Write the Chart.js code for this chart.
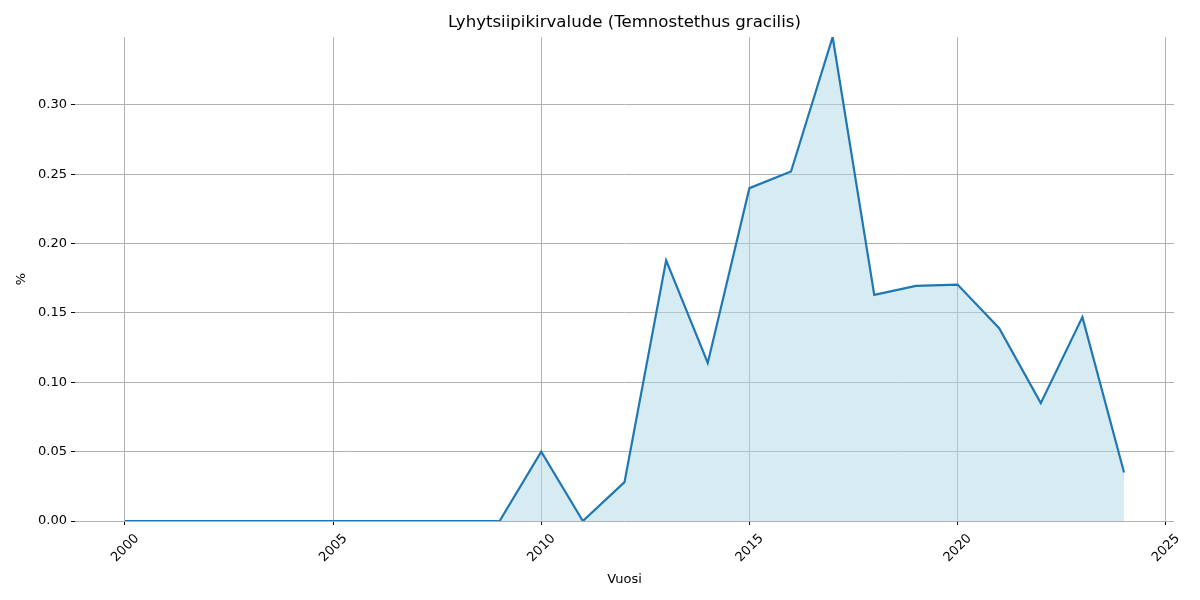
<!DOCTYPE html>
<html>
<head>
<meta charset="utf-8">
<script src="https://cdn.jsdelivr.net/npm/chart.js@4"></script>
<style>
  html, body { margin: 0; padding: 0; background: #fff; }
  #wrap { width: 1200px; height: 600px; }
</style>
</head>
<body>
<div id="wrap"><canvas id="chart"></canvas></div>
<script>
const years = [2000, 2001, 2002, 2003, 2004, 2005, 2006, 2007, 2008, 2009, 2010, 2011, 2012,
  2013, 2014, 2015, 2016, 2017, 2018, 2019, 2020, 2021, 2022, 2023, 2024];
const share = [0, 0, 0, 0, 0, 0, 0, 0, 0, 0, 0.050, 0, 0.028,
  0.188, 0.114, 0.240, 0.252, 0.349, 0.163, 0.1695, 0.1705, 0.139, 0.085, 0.147, 0.035];
const xTicks = [2000, 2005, 2010, 2015, 2020, 2025];
const yTicks = [0, 0.05, 0.10, 0.15, 0.20, 0.25, 0.30];
const chartTitle = 'Lyhytsiipikirvalude (Temnostethus gracilis)';

const font = 'DejaVu Sans';
Chart.defaults.font.family = font;
Chart.defaults.color = '#000';

// title centred over the plot area, like matplotlib does
const plotTitle = {
  id: 'plotTitle',
  afterDraw(chart) {
    const { ctx, chartArea } = chart;
    ctx.save();
    ctx.font = '16.6px ' + font;
    ctx.fillStyle = '#000';
    ctx.textAlign = 'center';
    ctx.textBaseline = 'middle';
    ctx.fillText(chartTitle, (chartArea.left + chartArea.right) / 2, 23);
    ctx.restore();
  }
};

document.addEventListener('DOMContentLoaded', () => {
  const ctx = document.getElementById('chart').getContext('2d');
  new Chart(ctx, {
    type: 'line',
    data: {
      datasets: [{
        label: '%',
        data: years.map((y, i) => ({ x: y, y: share[i] })),
        borderColor: '#1f77b4',
        borderWidth: 2.2,
        backgroundColor: 'rgba(173, 216, 230, 0.5)',
        fill: 'origin',
        pointRadius: 0,
        tension: 0
      }]
    },
    plugins: [plotTitle],
    options: {
      responsive: true,
      maintainAspectRatio: false,
      animation: false,
      layout: { padding: { left: 0, right: 26, top: 37, bottom: 0 } },
      plugins: {
        legend: { display: false },
        tooltip: { enabled: false },
        title: { display: false }
      },
      scales: {
        x: {
          type: 'linear',
          min: 1998.8,
          max: 2025.2,
          afterBuildTicks: s => { s.ticks = xTicks.map(v => ({ value: v })); },
          afterFit: s => { s.height = 79; },
          border: { display: false },
          grid: { color: '#b0b0b0', tickColor: '#000', tickLength: 4, lineWidth: 1 },
          ticks: {
            minRotation: 45, maxRotation: 45,
            labelOffset: 12,
            padding: 6,
            font: { size: 13 },
            callback: v => String(v)
          },
          title: {
            display: true, text: 'Vuosi',
            font: { size: 13 },
            padding: { top: 0, bottom: 13 }
          }
        },
        y: {
          min: 0,
          max: 0.349,
          afterBuildTicks: s => { s.ticks = yTicks.map(v => ({ value: v })); },
          afterFit: s => { s.width = 75; },
          border: { display: false },
          grid: { color: '#b0b0b0', tickColor: '#000', tickLength: 4, lineWidth: 1 },
          ticks: {
            padding: 4,
            font: { size: 13 },
            callback: v => v.toFixed(2)
          },
          title: {
            display: true, text: '%',
            font: { size: 13 },
            padding: { top: 14, bottom: 0 }
          }
        }
      }
    }
  });
});
</script>
</body>
</html>
